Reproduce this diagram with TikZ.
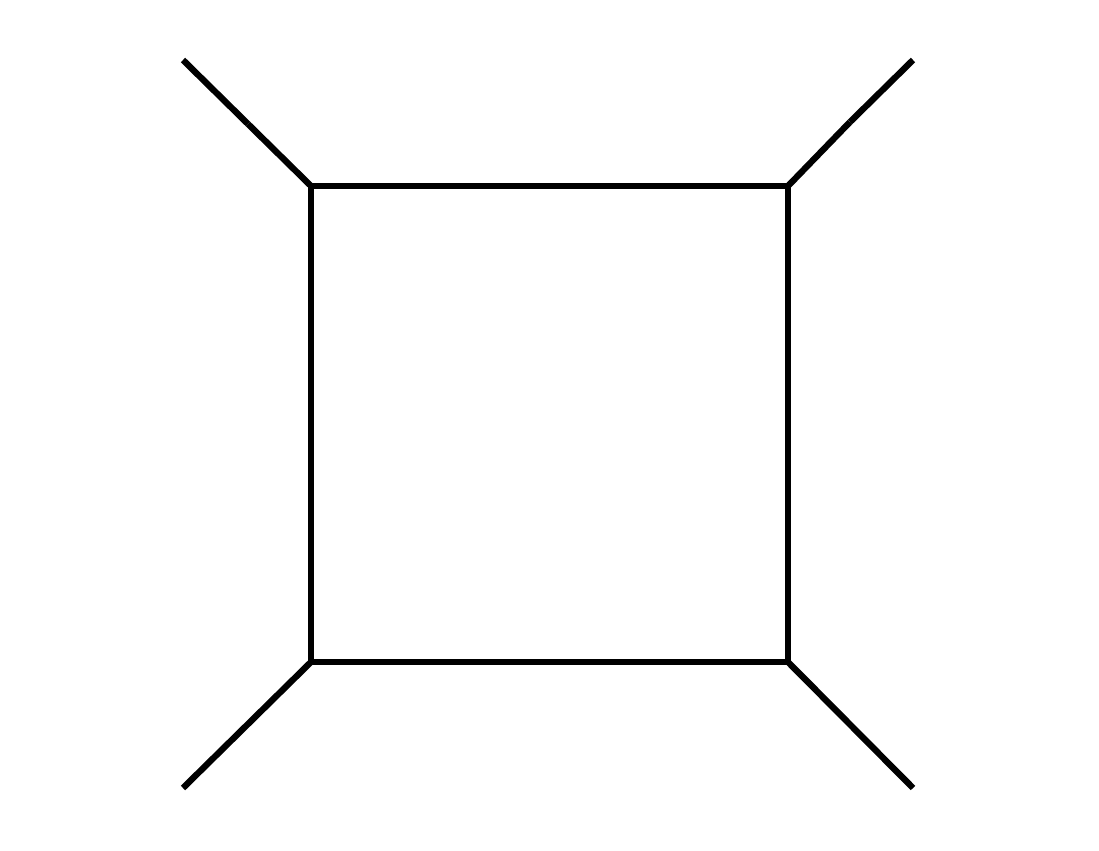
\documentclass[tikz,border=0pt]{standalone}
\usetikzlibrary{calc}

\begin{document}
\begin{tikzpicture}[line cap=butt,line join=miter,x=0.01cm,y=-0.01cm]
                \useasboundingbox (0,0) rectangle (1099,851);
                \coordinate (A) at (311,186);
                \coordinate (B) at (788,186);
                \coordinate (C) at (788,662);
                \coordinate (D) at (311,662);
                \coordinate (P1) at (183,60);
                \coordinate (M1) at (248,124);
                \coordinate (P2) at (913,60);
                \coordinate (M2) at (850,122);
                \coordinate (P3) at (913,788);
                \coordinate (P4) at (183,788);
                \draw [line width=1.8pt] (A)-- (B)-- (C)-- (D)-- cycle;
                \draw [line width=1.8pt] (P1)-- (M1);
                \draw [line width=1.8pt] (M1)-- (A);
                \draw [line width=1.8pt] (P2)-- (M2);
                \draw [line width=1.8pt] (M2)-- (B);
                \draw [line width=1.8pt] (C)-- (P3);
                \draw [line width=1.8pt] (D)-- (P4);
\end{tikzpicture}
\end{document}
